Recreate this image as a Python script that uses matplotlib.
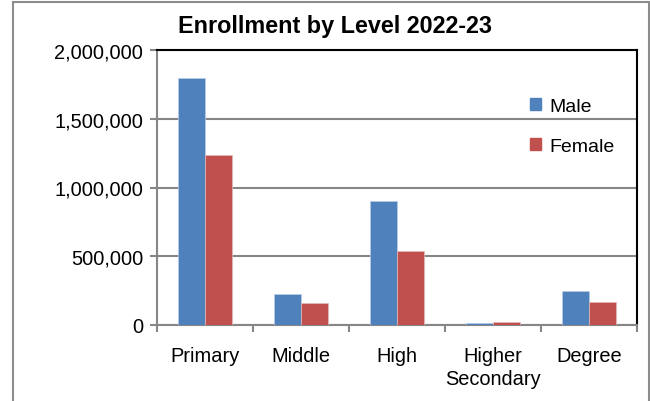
import matplotlib.pyplot as plt
import matplotlib.patches as mpatches
import numpy as np

plt.rcParams['font.family'] = ['Liberation Sans', 'DejaVu Sans']

levels = ['Primary', 'Middle', 'High', 'Higher\nSecondary', 'Degree']
male = [1800000, 228000, 900000, 15000, 250000]
female = [1237000, 160000, 537000, 24000, 166000]

blue = '#4F81BD'
red = '#C0504D'

fig = plt.figure(figsize=(6.5, 4.02), dpi=100)
# marco exterior del gráfico
fig.add_artist(mpatches.Rectangle((13 / 650, -0.1), (649 - 13) / 650, 1.1 - 3 / 402,
                                  transform=fig.transFigure, fill=False,
                                  edgecolor='#8c8c8c', linewidth=1.5))

ax = fig.add_axes([157 / 650, 1 - 326 / 402, (637 - 157) / 650, (326 - 51) / 402])

x = np.arange(len(levels))
w = 0.285
ax.bar(x - w / 2, male, w, color=blue, edgecolor='#b8cce4', linewidth=0.5, zorder=3)
ax.bar(x + w / 2, female, w, color=red, edgecolor='#e6b9b8', linewidth=0.5, zorder=3)

ax.set_xlim(-0.5, len(levels) - 0.5)
ax.set_ylim(0, 2000000)
ax.set_yticks(np.arange(0, 2000001, 500000))
ax.yaxis.set_major_formatter(plt.FuncFormatter(lambda v, p: f'{int(v):,}'))
ax.set_xticks(x)
ax.set_xticklabels(levels, fontsize=14.4, linespacing=1.3)
ax.set_xticks(np.arange(-0.5, len(levels)), minor=True)
ax.tick_params(axis='x', which='major', length=0, pad=15)
ax.tick_params(axis='x', which='minor', length=5, color='#868686', width=1.5)
ax.tick_params(axis='y', length=5, color='#868686', width=1.5, labelsize=14.4, pad=5)

ax.grid(True, axis='y', color='#868686', linewidth=1.5, zorder=1)
for s in ['left', 'bottom']:
    ax.spines[s].set_color('#868686')
    ax.spines[s].set_linewidth(1.5)
for s in ['top', 'right']:
    ax.spines[s].set_color('black')
    ax.spines[s].set_linewidth(1.5)

fig.text(335 / 650, 1 - 27 / 402, 'Enrollment by Level 2022-23', ha='center', va='center',
         fontsize=16.8, fontweight='bold')

handles = [mpatches.Patch(color=blue, label='Male'), mpatches.Patch(color=red, label='Female')]
leg = ax.legend(handles=handles, loc='upper left', bbox_to_anchor=(0.76, 0.855),
                frameon=False, fontsize=14, handlelength=0.6, handleheight=0.6,
                handletextpad=0.4, labelspacing=1.2, borderaxespad=0)

fig.savefig('out.png', dpi=100)
